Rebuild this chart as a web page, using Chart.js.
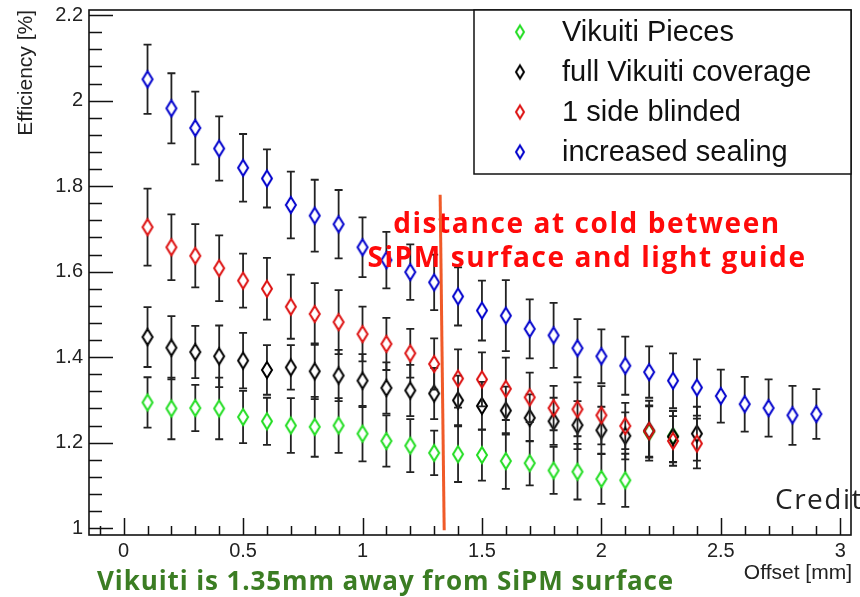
<!DOCTYPE html>
<html>
<head>
<meta charset="utf-8">
<script src="https://cdn.jsdelivr.net/npm/chart.js@4.4.0/dist/chart.umd.min.js"></script>
<style>
  html, body { margin: 0; padding: 0; background: #fff; }
  #wrap { width: 860px; height: 597px; }
</style>
</head>
<body>
<div id="wrap"><canvas id="chart" width="860" height="597"></canvas></div>
<script>
// ===== DATA =====
const offsets = [0.1, 0.2, 0.3, 0.4, 0.5, 0.6, 0.7, 0.8, 0.9, 1.0,
                 1.1, 1.2, 1.3, 1.4, 1.5, 1.6, 1.7, 1.8, 1.9, 2.0,
                 2.1, 2.2, 2.3, 2.4, 2.5, 2.6, 2.7, 2.8, 2.9];

const seriesNames = ['Vikuiti Pieces', 'full Vikuiti coverage', '1 side blinded', 'increased sealing'];

const piecesEff = [1.294, 1.280, 1.281, 1.280, 1.260, 1.250, 1.240, 1.237, 1.240, 1.221,
                   1.204, 1.193, 1.176, 1.173, 1.171, 1.157, 1.152, 1.135, 1.132, 1.115,
                   1.112, 1.225, 1.215];
const piecesErr = [0.059, 0.072, 0.054, 0.072, 0.061, 0.055, 0.064, 0.070, 0.064, 0.065,
                   0.060, 0.062, 0.052, 0.065, 0.060, 0.065, 0.052, 0.055, 0.065, 0.058,
                   0.062, 0.060, 0.060];

const fullEff = [1.447, 1.422, 1.412, 1.402, 1.392, 1.370, 1.376, 1.367, 1.357, 1.345,
                 1.328, 1.322, 1.315, 1.299, 1.286, 1.275, 1.258, 1.250, 1.241, 1.229,
                 1.216, 1.228, 1.214, 1.221];
const fullErr = [0.070, 0.074, 0.061, 0.072, 0.065, 0.058, 0.052, 0.065, 0.060, 0.062,
                 0.060, 0.060, 0.060, 0.058, 0.056, 0.056, 0.055, 0.055, 0.056, 0.055,
                 0.055, 0.070, 0.060, 0.063];

const blindEff = [1.704, 1.657, 1.637, 1.608, 1.579, 1.560, 1.518, 1.501, 1.482, 1.454,
                  1.431, 1.409, 1.384, 1.350, 1.348, 1.326, 1.306, 1.281, 1.278, 1.264,
                  1.239, 1.227, 1.204, 1.198];
const blindErr = [0.090, 0.077, 0.074, 0.077, 0.063, 0.072, 0.075, 0.072, 0.075, 0.064,
                  0.061, 0.057, 0.060, 0.068, 0.063, 0.073, 0.058, 0.052, 0.063, 0.068,
                  0.054, 0.060, 0.058, 0.058];

const sealEff = [2.050, 1.982, 1.936, 1.888, 1.843, 1.818, 1.756, 1.731, 1.711, 1.657,
                 1.627, 1.599, 1.575, 1.542, 1.509, 1.497, 1.466, 1.451, 1.421, 1.402,
                 1.380, 1.365, 1.345, 1.329, 1.309, 1.290, 1.281, 1.264, 1.267];
const sealErr = [0.081, 0.082, 0.085, 0.075, 0.079, 0.068, 0.078, 0.084, 0.080, 0.070,
                 0.066, 0.065, 0.065, 0.068, 0.070, 0.083, 0.069, 0.076, 0.068, 0.063,
                 0.068, 0.060, 0.064, 0.066, 0.062, 0.064, 0.067, 0.069, 0.058];

const xTicks = [0, 0.5, 1, 1.5, 2, 2.5, 3];
const yTicks = [1, 1.2, 1.4, 1.6, 1.8, 2, 2.2];

const coldDistance = [1.325, 1.342];   // orange marker line (top x, bottom x)
const coldRange = [1.78, 0.995];       // its y extent

// ===== STYLE =====
const colors = ['#22dd22', '#000000', '#dd1111', '#0000cc'];
const AXIS_FONT = '"Liberation Sans", Arial, sans-serif';
const NOTE_FONT = '"Open Sans", Lato, sans-serif';

// open diamond like ROOT marker 27
function diamondMarker(color, w, h, lw) {
    const c = document.createElement('canvas');
    c.width = w + lw * 2 + 2;
    c.height = h + lw * 2 + 2;
    const ctx = c.getContext('2d');
    const cx = c.width / 2, cy = c.height / 2;
    ctx.strokeStyle = color;
    ctx.lineWidth = lw;
    ctx.beginPath();
    ctx.moveTo(cx, cy - h / 2);
    ctx.lineTo(cx + w / 2, cy);
    ctx.lineTo(cx, cy + h / 2);
    ctx.lineTo(cx - w / 2, cy);
    ctx.closePath();
    ctx.stroke();
    return c;
}

function makePoints(values) {
    return values.map((v, i) => ({ x: offsets[i], y: v }));
}

const effLists = [piecesEff, fullEff, blindEff, sealEff];
const errLists = [piecesErr, fullErr, blindErr, sealErr];

const datasets = seriesNames.map((name, i) => ({
    label: name,
    data: makePoints(effLists[i]),
    errors: errLists[i],
    showLine: false,
    pointStyle: diamondMarker(colors[i], 10, 16, 2),
    legendMarker: diamondMarker(colors[i], 8, 13, 2),
    pointRadius: 8,
    pointHoverRadius: 8,
    borderColor: colors[i],
    backgroundColor: colors[i],
    order: 3 - i
}));

// error bars, drawn right before each dataset's markers, with a gap at the marker
const errorBarPlugin = {
    id: 'errorBars',
    beforeDatasetDraw(chart, args) {
        const ds = chart.data.datasets[args.index];
        const ctx = chart.ctx;
        const xs = chart.scales.x, ys = chart.scales.y;
        ctx.save();
        ctx.strokeStyle = '#222';
        ctx.lineWidth = 1.8;
        ds.data.forEach((p, i) => {
            const err = ds.errors[i];
            const px = xs.getPixelForValue(p.x);
            const py = ys.getPixelForValue(p.y);
            const top = ys.getPixelForValue(p.y + err);
            const bot = ys.getPixelForValue(p.y - err);
            ctx.beginPath();
            ctx.moveTo(px, py - 8); ctx.lineTo(px, top);
            ctx.moveTo(px, py + 8); ctx.lineTo(px, bot);
            ctx.moveTo(px - 4, top); ctx.lineTo(px + 4, top);
            ctx.moveTo(px - 4, bot); ctx.lineTo(px + 4, bot);
            ctx.stroke();
        });
        ctx.restore();
    }
};

// ROOT style frame with inward ticks
const framePlugin = {
    id: 'rootFrame',
    afterDatasetsDraw(chart) {
        const { ctx, chartArea: a } = chart;
        const xs = chart.scales.x, ys = chart.scales.y;
        ctx.save();
        ctx.strokeStyle = '#111';
        ctx.lineWidth = 1.6;
        ctx.strokeRect(a.left, a.top, a.right - a.left, a.bottom - a.top);

        ctx.lineWidth = 1.5;
        ctx.beginPath();
        // y ticks
        for (let v = 1.0; v <= 2.2001; v += 0.04) {
            const py = Math.round(ys.getPixelForValue(v)) + 0.5;
            const major = Math.abs(v * 5 - Math.round(v * 5)) < 1e-6;
            ctx.moveTo(a.left, py);
            ctx.lineTo(a.left + (major ? 24 : 13), py);
        }
        // x ticks
        for (let v = -0.1; v <= 3.0001; v += 0.1) {
            const px = Math.round(xs.getPixelForValue(v)) + 0.5;
            const major = Math.abs(v * 2 - Math.round(v * 2)) < 1e-6;
            ctx.moveTo(px, a.bottom);
            ctx.lineTo(px, a.bottom - (major ? 17 : 9));
        }
        ctx.stroke();
        ctx.restore();
    },
    afterDraw(chart) {
        const { ctx, chartArea: a } = chart;
        const xs = chart.scales.x, ys = chart.scales.y;
        ctx.save();

        // axis titles
        ctx.fillStyle = '#222';
        ctx.font = '21px ' + AXIS_FONT;
        ctx.textAlign = 'right';
        ctx.textBaseline = 'alphabetic';
        ctx.fillText('Offset [mm]', a.right + 1, 579);
        ctx.save();
        ctx.translate(32, a.top);
        ctx.rotate(-Math.PI / 2);
        ctx.textAlign = 'right';
        ctx.fillText('Efficiency [%]', 0, 0);
        ctx.restore();

        // legend box
        const lx = 474, ly = a.top, lw = a.right - lx, lh = 164;
        ctx.fillStyle = '#fff';
        ctx.fillRect(lx, ly, lw, lh);
        ctx.strokeStyle = '#111';
        ctx.lineWidth = 1.5;
        ctx.strokeRect(lx, ly, lw, lh);
        ctx.font = '29px ' + AXIS_FONT;
        ctx.textAlign = 'left';
        ctx.textBaseline = 'middle';
        ctx.fillStyle = '#111';
        chart.data.datasets.forEach((ds, i) => {
            const cy = ly + 22 + i * 40;
            const m = ds.legendMarker;
            ctx.drawImage(m, 520 - m.width / 2, cy - m.height / 2);
            ctx.fillText(ds.label, 562, cy + 1);
        });

        // annotations
        ctx.textAlign = 'center';
        ctx.textBaseline = 'alphabetic';
        ctx.fillStyle = '#ff0a0a';
        ctx.font = 'bold 28px ' + NOTE_FONT;
        ctx.letterSpacing = '1.6px';
        ctx.fillText('distance at cold between', 587, 233);
        ctx.fillText('SiPM surface and light guide', 587, 267);

        // orange line at the cold distance
        ctx.strokeStyle = '#f05a28';
        ctx.lineWidth = 3;
        ctx.beginPath();
        ctx.moveTo(xs.getPixelForValue(coldDistance[0]), ys.getPixelForValue(coldRange[0]));
        ctx.lineTo(xs.getPixelForValue(coldDistance[1]), ys.getPixelForValue(coldRange[1]));
        ctx.stroke();

        ctx.textAlign = 'left';
        ctx.fillStyle = '#3b7d23';
        ctx.font = 'bold 26px ' + NOTE_FONT;
        ctx.letterSpacing = '0.9px';
        ctx.fillText('Vikuiti is 1.35mm away from SiPM surface', 97, 590);

        ctx.fillStyle = '#222';
        ctx.font = '28px ' + NOTE_FONT;
        ctx.letterSpacing = '1.5px';
        ctx.fillText('Credit', 775, 509);
        ctx.letterSpacing = '0px';
        ctx.restore();
    }
};

const chart = new Chart(document.getElementById('chart'), {
    type: 'scatter',
    data: { datasets: datasets },
    options: {
        responsive: false,
        animation: false,
        layout: { padding: { top: 10, right: 2, left: 0, bottom: 0 } },
        plugins: {
            legend: { display: false },
            tooltip: { enabled: false }
        },
        scales: {
            x: {
                type: 'linear',
                min: -0.145,
                max: 3.045,
                grid: { display: false, drawTicks: false },
                border: { display: false },
                afterBuildTicks: (scale) => { scale.ticks = xTicks.map(v => ({ value: v })); },
                afterFit: (scale) => {
                    scale.height = 62;
                    scale.paddingLeft = 0;
                    scale.paddingRight = 0;
                },
                ticks: {
                    font: { family: AXIS_FONT, size: 20 },
                    color: '#222',
                    padding: 4,
                    maxRotation: 0,
                    callback: (v) => String(v)
                }
            },
            y: {
                type: 'linear',
                min: 0.984,
                max: 2.212,
                grid: { display: false, drawTicks: false },
                border: { display: false },
                afterBuildTicks: (scale) => { scale.ticks = yTicks.map(v => ({ value: v })); },
                afterFit: (scale) => {
                    scale.width = 89;
                    scale.paddingTop = 0;
                    scale.paddingBottom = 0;
                },
                ticks: {
                    font: { family: AXIS_FONT, size: 20 },
                    color: '#222',
                    padding: 6,
                    callback: (v) => String(v)
                }
            }
        }
    },
    plugins: [errorBarPlugin, framePlugin]
});
</script>
</body>
</html>
